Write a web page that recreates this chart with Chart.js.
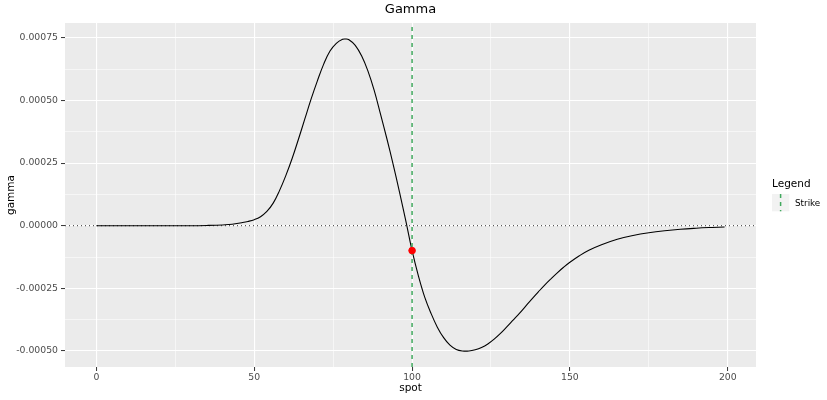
<!DOCTYPE html>
<html>
<head>
<meta charset="utf-8">
<script src="https://cdn.jsdelivr.net/npm/chart.js@4.4.1/dist/chart.umd.min.js"></script>
<style>
    body { margin: 0; background: #fff; }
    #wrap { width: 827px; height: 400px; position: relative; }
</style>
</head>
<body>
<div id="wrap"><canvas id="gammaChart"></canvas></div>
<script>
// --- data ---
const spot = [0, 10, 20, 30, 35, 40, 42, 44, 46, 48, 50, 52, 54, 56, 58, 60, 62, 64, 66, 68,
    70, 72, 74, 76, 78, 79, 80, 82, 84, 86, 88, 90, 92, 94, 96, 98, 100, 102, 104, 106,
    108, 110, 112, 114, 116, 118, 120, 122, 124, 126, 128, 130, 132, 134, 136, 138, 140, 142, 144, 146,
    148, 150, 153, 156, 160, 165, 170, 175, 180, 185, 190, 195, 199];
const gamma = [0, 0, 0, 0, 0.000001, 0.000003, 0.000005, 0.000008, 0.000012, 0.000017,
    0.000024, 0.000036, 0.000057, 0.00009, 0.00014, 0.0002, 0.000268, 0.000345, 0.000425, 0.000505,
    0.000578, 0.000645, 0.000697, 0.000728, 0.000744, 0.000745, 0.000742, 0.00072, 0.000678, 0.000618,
    0.00054, 0.000445, 0.000348, 0.000245, 0.000135, 0.00002, -0.0001, -0.0002, -0.000285, -0.00035,
    -0.000405, -0.000447, -0.000477, -0.000494, -0.0005, -0.0005, -0.000495, -0.000486, -0.000472, -0.000453,
    -0.00043, -0.000404, -0.000377, -0.00035, -0.000321, -0.000292, -0.000264, -0.000237, -0.000212, -0.000188,
    -0.000166, -0.000146, -0.00012, -0.000098, -0.000076, -0.000054, -0.000039, -0.000028, -0.00002, -0.000014,
    -0.00001, -0.000007, -0.000005];

const strikeSpot = 100;
const strikeGamma = -0.0000995;

const xMin = -9.95, xMax = 208.95;
const yMin = -0.000564, yMax = 0.000809;

const xTicks = [0, 50, 100, 150, 200];
const xMinor = [25, 75, 125, 175];
const yTicks = [-0.0005, -0.00025, 0, 0.00025, 0.0005, 0.00075];
const yMinor = [-0.000375, -0.000125, 0.000125, 0.000375, 0.000625];

const FONT = "'DejaVu Sans', sans-serif";
const STRIKE_GREEN = '#41a95e';

function isMajor(list, v) {
    return list.some(t => Math.abs(t - v) < 1e-9);
}

// ggplot style panel, title and legend
const ggPlugin = {
    id: 'ggPanel',
    beforeDraw(chart) {
        const { ctx, chartArea: a } = chart;
        ctx.save();
        ctx.fillStyle = '#EBEBEB';
        ctx.fillRect(a.left, a.top, a.right - a.left, a.bottom - a.top);
        ctx.restore();
    },
    afterDraw(chart) {
        const { ctx, chartArea: a } = chart;
        ctx.save();
        ctx.fillStyle = '#000';
        ctx.textAlign = 'center';
        ctx.textBaseline = 'middle';
        ctx.font = `13px ${FONT}`;
        ctx.fillText('Gamma', (a.left + a.right) / 2, 9.5);

        // legend
        ctx.textAlign = 'left';
        ctx.font = `10.5px ${FONT}`;
        ctx.fillText('Legend', 772, 184);
        ctx.fillStyle = '#F2F2F2';
        ctx.fillRect(772, 194, 17.3, 17.3);
        ctx.strokeStyle = STRIKE_GREEN;
        ctx.lineWidth = 1.5;
        ctx.setLineDash([4, 4]);
        ctx.beginPath();
        ctx.moveTo(780.6, 194);
        ctx.lineTo(780.6, 211.3);
        ctx.stroke();
        ctx.setLineDash([]);
        ctx.fillStyle = '#000';
        ctx.font = `8.8px ${FONT}`;
        ctx.fillText('Strike', 795, 203.3);
        ctx.restore();
    }
};

const curvePoints = spot.map((s, i) => ({ x: s, y: gamma[i] }));

new Chart(document.getElementById('gammaChart'), {
    type: 'scatter',
    data: {
        datasets: [
            {
                label: 'zero',
                data: [{ x: xMin, y: 0 }, { x: xMax, y: 0 }],
                showLine: true,
                borderColor: '#333333',
                borderWidth: 1,
                borderDash: [1, 3],
                pointRadius: 0,
                order: 3
            },
            {
                label: 'gamma',
                data: curvePoints,
                showLine: true,
                borderColor: '#000000',
                borderWidth: 1.1,
                tension: 0.4,
                pointRadius: 0,
                order: 2
            },
            {
                label: 'Strike',
                data: [{ x: strikeSpot, y: yMin }, { x: strikeSpot, y: yMax }],
                showLine: true,
                borderColor: STRIKE_GREEN,
                borderWidth: 1.5,
                borderDash: [4, 4],
                pointRadius: 0,
                order: 1
            },
            {
                label: 'strike gamma',
                data: [{ x: strikeSpot, y: strikeGamma }],
                backgroundColor: '#FF0000',
                borderColor: '#FF0000',
                pointRadius: 3.3,
                order: 0
            }
        ]
    },
    options: {
        responsive: true,
        maintainAspectRatio: false,
        animation: false,
        layout: { padding: { left: 0, right: 71, top: 23, bottom: 0 } },
        plugins: {
            legend: { display: false },
            tooltip: { enabled: false }
        },
        scales: {
            x: {
                type: 'linear',
                min: xMin,
                max: xMax,
                afterBuildTicks: axis => {
                    axis.ticks = [...xTicks, ...xMinor].sort((a, b) => a - b).map(v => ({ value: v }));
                },
                afterFit: axis => { axis.height = 33; },
                border: { display: false },
                grid: {
                    color: '#FFFFFF',
                    lineWidth: c => isMajor(xTicks, c.tick.value) ? 1.1 : 0.55,
                    tickColor: c => isMajor(xTicks, c.tick.value) ? '#333333' : 'rgba(0,0,0,0)',
                    tickLength: 4,
                    tickWidth: 1
                },
                ticks: {
                    autoSkip: false,
                    maxRotation: 0,
                    padding: 1,
                    color: '#4D4D4D',
                    font: { family: FONT, size: 9.3 },
                    callback: v => isMajor(xTicks, v) ? String(v) : ''
                },
                title: {
                    display: true,
                    text: 'spot',
                    color: '#000',
                    font: { family: FONT, size: 10.5 },
                    padding: { top: 0, bottom: 5.7 }
                }
            },
            y: {
                type: 'linear',
                min: yMin,
                max: yMax,
                afterBuildTicks: axis => {
                    axis.ticks = [...yTicks, ...yMinor].sort((a, b) => a - b).map(v => ({ value: v }));
                },
                afterFit: axis => { axis.width = 65; },
                border: { display: false },
                grid: {
                    color: '#FFFFFF',
                    lineWidth: c => isMajor(yTicks, c.tick.value) ? 1.1 : 0.55,
                    tickColor: c => isMajor(yTicks, c.tick.value) ? '#333333' : 'rgba(0,0,0,0)',
                    tickLength: 4,
                    tickWidth: 1
                },
                ticks: {
                    autoSkip: false,
                    padding: 3,
                    color: '#4D4D4D',
                    font: { family: FONT, size: 9.3 },
                    callback: v => isMajor(yTicks, v) ? v.toFixed(5) : ''
                },
                title: {
                    display: true,
                    text: 'gamma',
                    color: '#000',
                    font: { family: FONT, size: 10.5 },
                    padding: { top: 5, bottom: 0 }
                }
            }
        }
    },
    plugins: [ggPlugin]
});
</script>
</body>
</html>
